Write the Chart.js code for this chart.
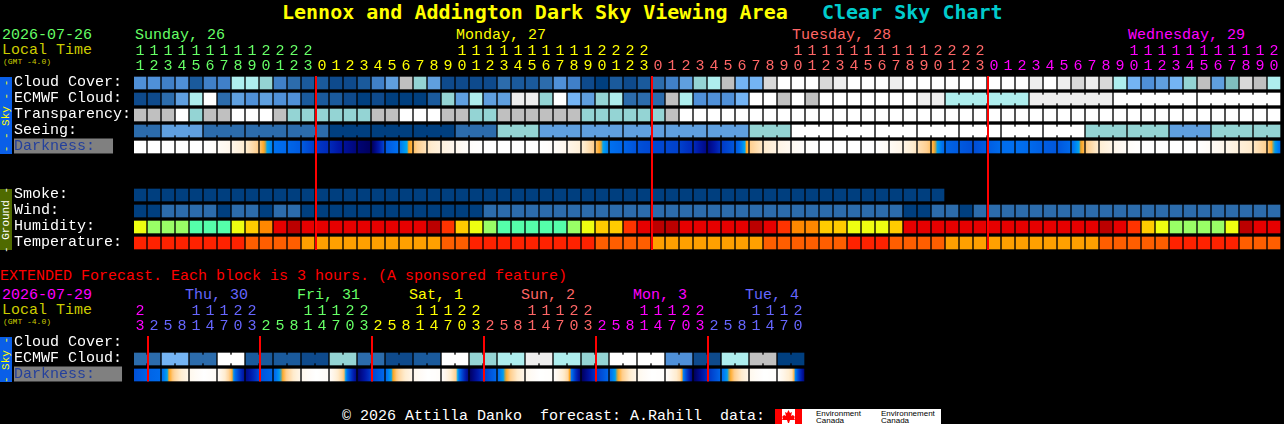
<!DOCTYPE html>
<html>
<head>
<meta charset="utf-8">
<title>Lennox and Addington Dark Sky Viewing Area - Clear Sky Chart</title>
<script src="https://cdn.jsdelivr.net/npm/chart.js@4/dist/chart.umd.min.js"></script>
<style>
html, body { margin: 0; padding: 0; background: #000; overflow: hidden; }
#page { position: relative; width: 1284px; height: 424px; background: #000; overflow: hidden; }
canvas { position: absolute; left: 0; }
.t { position: absolute; white-space: pre; font: 15px/15px "Liberation Mono", monospace; color: #fff; }
.title { font: bold 20px/24px "DejaVu Sans Mono", monospace; top: 0; }
.gmt { font: 8px/8px "Liberation Mono", monospace; color: #cccc00; }
.side { position: absolute; left: 0; width: 12px; }
.side span { position: absolute; left: 6px; top: 50%; transform: translate(-50%, -50%) rotate(-90deg); white-space: pre; font: 11px/11px "Liberation Mono", monospace; }
#logo { position: absolute; left: 775px; top: 409px; width: 166px; height: 15px; background: #fff; }
#logo div { position: absolute; font: 8px/7px "Liberation Sans", sans-serif; color: #000; white-space: pre; }
</style>
</head>
<body>
<div id="page">
  <div class="t title" style="left:282px;color:#ffff00">Lennox and Addington Dark Sky Viewing Area</div>
  <div class="t title" style="left:822px;color:#00cccc">Clear Sky Chart</div>

  <div class="t" style="left:2px;top:28px;color:#66ff66">2026-07-26</div>
  <div class="t" style="left:2px;top:43px;color:#cccc00">Local Time</div>
  <div class="t gmt" style="left:3px;top:58px">(GMT -4.0)</div>
  <div class="t" style="left:135px;top:28px;color:#66ff66">Sunday, 26</div>
  <div class="t" style="left:456px;top:28px;color:#ffff00">Monday, 27</div>
  <div class="t" style="left:792px;top:28px;color:#ff6666">Tuesday, 28</div>
  <div class="t" style="left:1128px;top:28px;color:#ff00ff">Wednesday, 29</div>

  <div class="side" style="top:77px;height:77px;background:#0a5fe8"><span style="color:#ffff00">- - Sky - -</span></div>
  <div class="side" style="top:189px;height:61px;background:#4f6a00"><span style="color:#fff">- Ground -</span></div>

  <div class="t" style="left:0;top:269px;color:#ff0000">EXTENDED Forecast. Each block is 3 hours. (A sponsored feature)</div>

  <div class="t" style="left:2px;top:288px;color:#ff00ff">2026-07-29</div>
  <div class="t" style="left:2px;top:303px;color:#cccc00">Local Time</div>
  <div class="t gmt" style="left:3px;top:318px">(GMT -4.0)</div>
  <div class="t" style="left:185px;top:288px;color:#6666ff">Thu, 30</div>
  <div class="t" style="left:297px;top:288px;color:#66ff66">Fri, 31</div>
  <div class="t" style="left:409px;top:288px;color:#ffff00">Sat, 1</div>
  <div class="t" style="left:521px;top:288px;color:#ff6666">Sun, 2</div>
  <div class="t" style="left:633px;top:288px;color:#ff00ff">Mon, 3</div>
  <div class="t" style="left:745px;top:288px;color:#6666ff">Tue, 4</div>

  <div class="side" style="top:337px;height:45px;background:#0a5fe8"><span style="color:#ffff00">- Sky -</span></div>

  <div class="t" style="left:342px;top:409px">© 2026 Attilla Danko  forecast: A.Rahill  data:</div>
  <div id="logo">
    <svg width="27" height="15" style="position:absolute;left:0;top:0">
      <rect x="0" y="0" width="7" height="15" fill="#ff0000"/>
      <rect x="20" y="0" width="7" height="15" fill="#ff0000"/>
      <path d="M13.5 1 L15 4 L17 3 L16 7 L18 6 L20 8 L19 9 L20 11 L15 11 L14 14 L13 14 L12 11 L7 11 L8 9 L7 8 L9 6 L11 7 L10 3 L12 4 Z" fill="#ff0000"/>
    </svg>
    <div style="left:41px;top:1px">Environment</div>
    <div style="left:41px;top:8px">Canada</div>
    <div style="left:106px;top:1px">Environnement</div>
    <div style="left:106px;top:8px">Canada</div>
  </div>
</div>

<script>
// hourly forecast (82 blocks, starting 11:00 sunday)
const topHours = [11,12,13,14,15,16,17,18,19,20,21,22,23,
    0,1,2,3,4,5,6,7,8,9,10,11,12,13,14,15,16,17,18,19,20,21,22,23,
    0,1,2,3,4,5,6,7,8,9,10,11,12,13,14,15,16,17,18,19,20,21,22,23,
    0,1,2,3,4,5,6,7,8,9,10,11,12,13,14,15,16,17,18,19,20];
const topRows = ['Cloud Cover:', 'ECMWF Cloud:', 'Transparency:', 'Seeing:', 'Darkness:  ', '', '', 'Smoke:', 'Wind:', 'Humidity:', 'Temperature:'];
const topMidnights = [13, 37, 61];

// sky levels index into skyColors
const cloudCover = [5,5,4,5,2,4,4,10,10,9,4,3,2,2,1,1,2,4,6,11,9,
    6,1,1,1,1,3,2,2,3,5,4,1,0,2,1,2,3,4,6,9,10,11,7,7,12,14,14,14,12,13,14,
    14,14,13,14,14,14,14,14,14,14,14,14,13,14,13,12,13,12,10,7,5,6,7,9,11,6,8,12,11,10];
const ecmwfCloud = [1,1,3,6,10,14,3,6,5,6,5,5,2,2,2,1,0,1,0,0,0,
    2,9,6,10,6,6,13,13,9,14,7,6,9,10,3,3,3,11,10,5,5,5,7,14,14,11,14,11,14,14,14,
    14,14,14,14,13,13,10,10,10,10,10,10,13,13,13,13,13,13,14,14,14,14,14,14,14,14,14,14,14,14];
const transparency = [11,11,11,14,9,11,11,14,14,14,11,9,9,9,9,9,9,11,11,14,14,
    14,11,11,9,9,11,11,11,11,11,11,9,9,9,9,9,9,11,14,14,14,14,14,14,14,14,14,14,14,14,14,
    14,14,14,14,14,14,14,14,14,14,14,14,14,14,14,14,14,14,14,14,14,14,14,14,14,14,14,14,14,14];
const seeing = [3,3, 6,6,6, 3,3,3, 3,3,3, 3,3,3, 0,0,0, 0,0,0, 0,0,0, 3,3,3, 9,9,9, 6,6,6, 6,6,6, 6,6,6, 6,6,6, 6,6,6, 9,9,9,
    14,14,14, 14,14,14, 14,14,14, 14,14,14, 14,14,14, 14,14,14, 14,14,14, 9,9,9, 9,9,9, 6,6,6, 9,9,9, 9,9];
const smoke = [0,0,0,0,0,0,0,0,0,0,0,0,0,0,0,0,0,0,0,0,0,0,0,0,0,0,0,0,0,0,0,0,0,0,0,0,0,0,0,0,0,0,0,0,0,0,0,0,0,0,0,0,0,0,0,0,0,0];
const wind = [0,0,3,3,3,3,0,3,3,0,3,3,0,0,0,0,0,0,0,0,0,
    0,0,0,0,3,3,3,3,3,3,3,3,3,3,3,3,3,3,3,3,3,3,3,3,3,3,3,3,3,3,3,
    3,3,3,0,0,3,3,0,3,3,3,3,3,3,3,3,3,3,3,3,3,3,3,3,3,3,3,3,3,3];
// 0 mint .. 7 dark red
const humidity = [2,1,1,1,0,0,0,2,3,4,6,7,6,6,6,6,6,6,6,6,6,
    7,5,3,2,1,0,0,0,0,0,1,2,3,3,5,6,7,7,6,6,6,6,6,7,6,5,4,4,3,3,2,
    2,2,3,6,6,6,6,6,6,6,6,6,6,6,6,6,6,7,6,5,3,2,1,1,1,1,2,7,6,6];
// 0 orange, 1 dark orange, 2 red
const temperature = [2,2,2,2,2,2,2,2,1,1,1,1,0,0,0,0,0,0,0,0,0,
    0,1,1,2,2,2,2,2,2,2,2,2,1,1,1,1,0,0,0,0,0,0,0,0,1,1,1,1,1,1,2,
    2,2,1,1,1,1,0,0,0,0,0,0,0,0,0,0,0,1,1,1,1,1,2,2,2,2,2,1,1,1];
// darkness at each hour boundary, 0 daylight .. 10 darkest (83 values)
const darkness = [0,0,0,0,0,0,0.4,1,2,3.2,4.5,4.8,5.2,6.2,6.8,8,9,9.6,5.2,4.4,3.2,2.2,
    1.4,0.8,0.2,0,0,0,0,0,0.3,1,1.8,3.2,4.5,4.9,5.5,5.8,5.8,6,6.8,8.8,6.2,5.2,3,2,1.2,0.6,0.2,0,0,0,
    0,0,0.5,1.2,2.4,3.3,4.9,5.2,5.6,5.1,4.6,4.5,4.7,5.1,5.3,4.6,3.1,1.8,1,0.3,0,0,0,0,0,0.5,1,1.6,2.2,3.1,4.8];

// extended forecast (3 hour labels, blocks of two)
const extHours = [23,2,5,8,11,14,17,20,23,2,5,8,11,14,17,20,23,2,5,8,11,14,17,20,23,
    2,5,8,11,14,17,20,23,2,5,8,11,14,17,20,23,2,5,8,11,14,17,20];
const extHourColors = ['#ff00ff', '#6666ff', '#66ff66', '#ffff00', '#ff6666', '#ff00ff', '#6666ff'];
const extRows = ['Cloud Cover:', 'ECMWF Cloud:', 'Darkness:   '];
const extMidnights = [1, 9, 17, 25, 33, 41];
const extCloud = [3,7,3,14,2,2,1,9,3,1,2,14,9,10,13,10,9,14,14,5,1,10,11,0];
const extDarkness = [5.5,4.9,4.6,2.6,0.8,0,0.5,3.5,8.5,5.4,4.7,2.8,0.8,0,0.4,3.2,9.2,5.8,4.6,2.6,0.8,0,0.3,3,9.4,
    6,4.6,2.8,0.8,0,0.2,2.8,9.5,6.2,4.6,2.8,0.8,0,0.2,2.6,9.6,6.4,4.6,2.8,0.8,0,0.2,2.4,9.8];

const skyColors = ['#003f7f','#0e4a8c','#1a5a9c','#2c6cac','#4080c8','#4f90d8','#5f9fdf','#74b4f4','#7fbfbf','#94d4d4','#aeeeee','#c0c0c0','#d8d8d8','#eeeeee','#ffffff'];
const humidityColors = ['#55ffaa','#99ff66','#eeff11','#ffcc00','#ff8800','#ff3300','#e60000','#bb0000'];
const temperatureColors = ['#ffa000','#ff5e00','#ff2200'];
const dayColors = ['#66ff66', '#ffff00', '#ff6666', '#ff00ff'];
// darkness value -> colour stops
const darkStops = [[0,255,255,255],[1,255,246,234],[2,255,236,207],[3,255,207,143],[3.65,255,160,16],[3.8,0,168,240],[4.5,0,112,240],[5.5,0,80,216],[6.5,0,48,192],[7.5,0,24,168],[8.5,0,10,136],[9.5,0,0,96],[10,0,0,64]];

const CELL = 12 / 14; // block width, in columns

function darkColor(v) {
    for (let i = 1; i < darkStops.length; i++) {
        const a = darkStops[i - 1], b = darkStops[i];
        if (v <= b[0]) {
            const t = (v - a[0]) / (b[0] - a[0]);
            return `rgb(${a[1] + (b[1] - a[1]) * t}, ${a[2] + (b[2] - a[2]) * t}, ${a[3] + (b[3] - a[3]) * t})`;
        }
    }
    return 'rgb(0,0,64)';
}

// one gradient along the whole row, each block shows its part of it
function darkGradient(chart, values) {
    const scale = chart.scales.x;
    const x0 = scale.getPixelForValue(0);
    const x1 = scale.getPixelForValue(values.length - 1);
    const g = chart.ctx.createLinearGradient(x0, 0, x1, 0);
    const n = values.length - 1;
    for (let i = 0; i < n; i++) {
        for (let s = 0; s < 8; s++) {
            g.addColorStop((i + s / 8) / n, darkColor(values[i] + (values[i + 1] - values[i]) * s / 8));
        }
    }
    g.addColorStop(1, darkColor(values[n]));
    return g;
}

function cells(values, row, colors) {
    return {
        data: values.map((v, i) => ({ x: [i, i + CELL], y: row, color: colors[v] })),
        backgroundColor: ctx => ctx.raw ? ctx.raw.color : 'transparent',
        barThickness: 12,
        grouped: false,
        order: 2
    };
}

// thin joins between blocks of the same forecast run
function joins(values, row, colors, joined) {
    const data = [];
    values.forEach((v, i) => {
        if (i < values.length - 1 && joined(i)) data.push({ x: [i + CELL, i + 1], y: row, color: colors[v] });
    });
    return {
        data: data,
        backgroundColor: ctx => ctx.raw ? ctx.raw.color : 'transparent',
        barThickness: 8,
        grouped: false,
        order: 2
    };
}

function darkCells(values, row, step, width) {
    const data = [];
    for (let i = 0; i < values.length - 1; i += step) data.push({ x: [i, i + width], y: row });
    let fill = null;
    return {
        data: data,
        backgroundColor: ctx => {
            if (!ctx.chart.chartArea) return 'transparent';
            if (!fill) fill = darkGradient(ctx.chart, values);
            return fill;
        },
        barThickness: 12,
        grouped: false,
        order: 2
    };
}

function redLine(x, y0, y1) {
    return {
        type: 'line',
        data: [{ x: x, y: y0 }, { x: x, y: y1 }],
        borderColor: '#ff0000',
        borderWidth: 2,
        pointRadius: 0,
        order: 0
    };
}

function hourTick(h) {
    return h >= 10 ? [String(Math.floor(h / 10)), String(h % 10)] : [' ', String(h)];
}

function panel(id, top, height, hours, hourColor, rows, datasets, rightPad, bottomPad, axisHeight) {
    const canvas = document.getElementById(id);
    canvas.width = 1284;
    canvas.height = height;
    canvas.style.top = top + 'px';
    return new Chart(canvas, {
        type: 'bar',
        data: { datasets: datasets },
        options: {
            indexAxis: 'y',
            responsive: false,
            animation: false,
            devicePixelRatio: 1,
            layout: { padding: { left: 14, right: rightPad, top: 0, bottom: bottomPad } },
            plugins: { legend: { display: false }, tooltip: { enabled: false } },
            scales: {
                x: { type: 'linear', display: false, min: 0, max: hours.length },
                hours: {
                    type: 'category',
                    axis: 'x',
                    position: 'top',
                    labels: hours.map(String),
                    offset: true,
                    grid: { display: false, drawTicks: false },
                    border: { display: false },
                    afterFit: axis => {
                        axis.height = axisHeight;
                        axis.paddingLeft = 0;
                        axis.paddingRight = 0;
                    },
                    ticks: {
                        autoSkip: false,
                        maxRotation: 0,
                        minRotation: 0,
                        padding: 1,
                        labelOffset: -1,
                        font: { family: 'Liberation Mono', size: 15, lineHeight: 1 },
                        color: ctx => hourColor(ctx.index),
                        callback: (v, i) => hourTick(hours[i])
                    }
                },
                y: {
                    type: 'linear',
                    reverse: true,
                    offset: false,
                    min: -0.5,
                    max: rows.length - 0.5,
                    grid: { display: false, drawTicks: false },
                    border: { display: false },
                    afterFit: axis => {
                        axis.width = 120;
                        axis.paddingTop = 0;
                        axis.paddingBottom = 0;
                    },
                    afterBuildTicks: axis => { axis.ticks = rows.map((r, i) => ({ value: i })); },
                    ticks: {
                        autoSkip: false,
                        crossAlign: 'far',
                        labelOffset: -1,
                        font: { family: 'Liberation Mono', size: 15, lineHeight: 1 },
                        color: ctx => rows[ctx.index].startsWith('Darkness') ? '#24409c' : '#ffffff',
                        showLabelBackdrop: ctx => rows[ctx.index].startsWith('Darkness'),
                        backdropColor: '#808080',
                        backdropPadding: 0,
                        callback: (v, i) => rows[i]
                    }
                }
            }
        }
    });
}

// day colour of each hourly label, moves on at every midnight
let day = 0;
const topHourDay = topHours.map((h, i) => {
    if (i > 0 && h === 0) day++;
    return day;
});

const topSets = [
    cells(cloudCover, 0, skyColors),
    cells(ecmwfCloud, 1, skyColors),
    joins(ecmwfCloud, 1, skyColors, i => i >= 58 && (i - 57) % 6 !== 0),
    cells(transparency, 2, skyColors),
    cells(seeing, 3, skyColors),
    joins(seeing, 3, skyColors, i => i % 3 !== 1),
    darkCells(darkness, 4, 1, CELL),
    cells(smoke, 7, skyColors),
    cells(wind, 8, skyColors),
    cells(humidity, 9, humidityColors),
    cells(temperature, 10, temperatureColors)
];
topMidnights.forEach(m => topSets.push(redLine(m, -0.44, 10.44)));

// extended blocks are two labels wide with a join in the middle
const extCells = [];
extCloud.forEach(v => extCells.push(v, v));
const extSets = [
    cells(extCells, 1, skyColors),
    joins(extCells, 1, skyColors, i => i % 2 === 0),
    darkCells(extDarkness, 2, 2, 26 / 14)
];
extMidnights.forEach(m => extSets.push(redLine(m, -0.44, 2.4)));

// extended label colour: first label is wednesday, then 8 labels a day
function extColor(i) {
    return extHourColors[i === 0 ? 0 : Math.floor((i - 1) / 8) + 1];
}

document.getElementById('page').insertAdjacentHTML('beforeend', '<canvas id="topChart"></canvas><canvas id="extChart"></canvas>');
panel('topChart', 0, 252, topHours, i => dayColors[topHourDay[i]], topRows, topSets, 2, 1, 75);
panel('extChart', 280, 104, extHours, extColor, extRows, extSets, 478, 1, 55);
</script>
</body>
</html>
